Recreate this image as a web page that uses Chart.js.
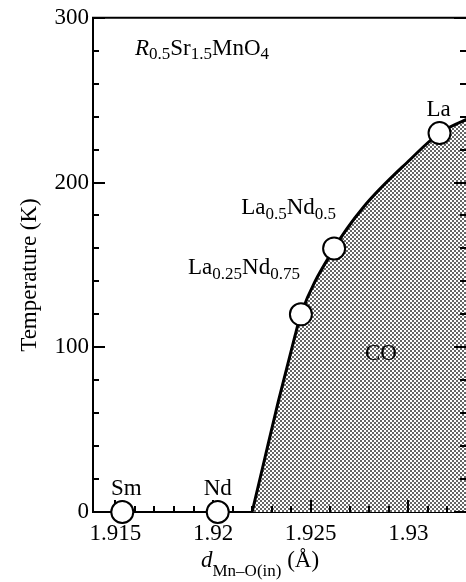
<!DOCTYPE html>
<html>
<head>
<meta charset="utf-8">
<script src="https://cdn.jsdelivr.net/npm/chart.js@4.4.1/dist/chart.umd.min.js"></script>
<style>
  html, body { margin: 0; padding: 0; background: #fff; overflow: hidden; }
  canvas { display: block; }
</style>
</head>
<body>
<canvas id="chart" width="466" height="582"></canvas>
<script>
// axis limits and ticks
const xLimits = [1.91385, 1.932956];
const yLimits = [0, 300];
const xMajorTicks = [1.915, 1.92, 1.925, 1.93];
const xMinorTicks = [1.916, 1.917, 1.918, 1.919, 1.921, 1.922, 1.923, 1.924,
                     1.926, 1.927, 1.928, 1.929, 1.931, 1.932];
const yMajorTicks = [0, 100, 200, 300];
const yMinorTicks = [20, 40, 60, 80, 120, 140, 160, 180, 220, 240, 260, 280];

// measured compounds (open circles)
const compoundD = [1.91535, 1.92024, 1.9245, 1.9262, 1.9316];
const compoundT = [0, 0, 120, 160, 230];

// charge-order phase boundary
const boundaryD = [1.9220, 1.92254, 1.92334, 1.9242, 1.9245, 1.9262, 1.9277, 1.9301, 1.9316, 1.9333];
const boundaryT = [0, 27, 67, 107, 120, 160, 185, 214, 230, 240];

const SERIF = '"Liberation Serif", "DejaVu Serif", serif';

// label text for each compound, index matched with compoundD / compoundT
// kinds: n = normal, i = italic, s = subscript
const compoundLabels = [
    { parts: [['Sm', 'n']], dx: 4, dy: -17, align: 'center' },
    { parts: [['Nd', 'n']], dx: 0, dy: -17, align: 'center' },
    { parts: [['La', 'n'], ['0.25', 's'], ['Nd', 'n'], ['0.75', 's']], dx: -1, dy: -40, align: 'right' },
    { parts: [['La', 'n'], ['0.5', 's'], ['Nd', 'n'], ['0.5', 's']], dx: 2, dy: -34, align: 'right' },
    { parts: [['La', 'n']], dx: -1, dy: -17, align: 'center' }
];

function makeStipple() {
    const c = document.createElement('canvas');
    c.width = 4;
    c.height = 4;
    const g = c.getContext('2d');
    g.fillStyle = '#fff';
    g.fillRect(0, 0, 4, 4);
    g.fillStyle = '#666';
    g.fillRect(0, 0, 2, 2);
    g.fillRect(2, 2, 2, 2);
    return g.createPattern(c, 'repeat');
}

function fontFor(kind) {
    if (kind === 's') return '17px ' + SERIF;
    if (kind === 'i') return 'italic 23px ' + SERIF;
    return '23px ' + SERIF;
}

function drawRich(ctx, parts, x, y, align, subShift) {
    const shift = subShift || 5;
    let w = 0;
    parts.forEach(([t, k]) => { ctx.font = fontFor(k); w += ctx.measureText(t).width; });
    let cx = align === 'center' ? x - w / 2 : align === 'right' ? x - w : x;
    ctx.textAlign = 'left';
    ctx.textBaseline = 'alphabetic';
    parts.forEach(([t, k]) => {
        ctx.font = fontFor(k);
        ctx.fillText(t, cx, y + (k === 's' ? shift : 0));
        cx += ctx.measureText(t).width;
    });
}

// inward ticks, top frame line
function drawFrame(chart) {
    const { ctx, chartArea: a, scales: { x, y } } = chart;
    ctx.save();
    ctx.strokeStyle = '#000';
    ctx.lineWidth = 2;
    ctx.beginPath();
    ctx.moveTo(a.left - 1, a.top);
    ctx.lineTo(a.right, a.top);
    const yTick = (v, len) => {
        const py = Math.round(y.getPixelForValue(v));
        ctx.moveTo(a.left, py); ctx.lineTo(a.left + len, py);
        ctx.moveTo(a.right, py); ctx.lineTo(a.right - len, py);
    };
    const xTick = (v, len) => {
        const px = Math.round(x.getPixelForValue(v));
        ctx.moveTo(px, a.bottom); ctx.lineTo(px, a.bottom - len);
    };
    yMajorTicks.forEach(v => yTick(v, 12));
    yMinorTicks.forEach(v => yTick(v, 6));
    xMajorTicks.forEach(v => xTick(v, 12));
    xMinorTicks.forEach(v => xTick(v, 6));
    ctx.stroke();
    ctx.restore();
}

const decorations = {
    id: 'decorations',
    afterDatasetDraw(chart, args) {
        if (args.index === 0) drawFrame(chart);
    },
    afterDraw(chart) {
        const { ctx, chartArea: a, scales: { x, y } } = chart;
        ctx.save();
        ctx.fillStyle = '#000';

        // compound labels
        compoundLabels.forEach((lab, i) => {
            const px = x.getPixelForValue(compoundD[i]) + lab.dx;
            const py = y.getPixelForValue(compoundT[i]) + lab.dy;
            drawRich(ctx, lab.parts, px, py, lab.align);
        });

        // phase label
        drawRich(ctx, [['CO', 'n']], x.getPixelForValue(1.9286), y.getPixelForValue(92), 'center');

        // formula
        drawRich(ctx, [['R', 'i'], ['0.5', 's'], ['Sr', 'n'], ['1.5', 's'], ['MnO', 'n'], ['4', 's']],
            a.left + 42, a.top + 37, 'left', 4);

        // x axis title
        drawRich(ctx, [['d', 'i'], ['Mn\u2013O(in)', 's'], [' (\u00C5)', 'n']], 201, 567, 'left', 9);

        // y axis title
        ctx.translate(36, 275);
        ctx.rotate(-Math.PI / 2);
        ctx.font = '23px ' + SERIF;
        ctx.textAlign = 'center';
        ctx.textBaseline = 'alphabetic';
        ctx.fillText('Temperature (K)', 0, 0);
        ctx.restore();
    }
};

const tickFont = { family: SERIF, size: 23 };

new Chart(document.getElementById('chart'), {
    type: 'line',
    data: {
        datasets: [
            {
                label: 'boundary',
                data: boundaryD.map((d, i) => ({ x: d, y: boundaryT[i] })),
                borderColor: '#000',
                borderWidth: 3,
                pointRadius: 0,
                cubicInterpolationMode: 'monotone',
                fill: 'origin',
                backgroundColor: makeStipple(),
                order: 2
            },
            {
                label: 'compounds',
                data: compoundD.map((d, i) => ({ x: d, y: compoundT[i] })),
                showLine: false,
                pointRadius: 11,
                pointBorderWidth: 2,
                pointBackgroundColor: '#fff',
                pointBorderColor: '#000',
                clip: false,
                order: 1
            }
        ]
    },
    options: {
        responsive: false,
        animation: false,
        devicePixelRatio: 1,
        layout: { autoPadding: false, padding: { top: 13, right: 0, left: 0, bottom: 0 } },
        plugins: { legend: { display: false }, tooltip: { enabled: false } },
        scales: {
            x: {
                type: 'linear',
                min: xLimits[0],
                max: xLimits[1],
                grid: { display: true, drawOnChartArea: false, drawTicks: false },
                border: { display: true, color: '#000', width: 2 },
                ticks: { color: '#000', font: tickFont, padding: 8, maxRotation: 0, autoSkip: false,
                         callback: v => String(v) },
                afterBuildTicks: s => { s.ticks = xMajorTicks.map(v => ({ value: v })); },
                afterFit: s => { s.height = 70; }
            },
            y: {
                type: 'linear',
                min: yLimits[0],
                max: yLimits[1],
                grid: { display: true, drawOnChartArea: false, drawTicks: false },
                border: { display: true, color: '#000', width: 2 },
                ticks: { color: '#000', font: tickFont, padding: 4, callback: v => String(v) },
                afterBuildTicks: s => { s.ticks = yMajorTicks.map(v => ({ value: v })); },
                afterFit: s => { s.width = 93; }
            }
        }
    },
    plugins: [decorations]
});
</script>
</body>
</html>
